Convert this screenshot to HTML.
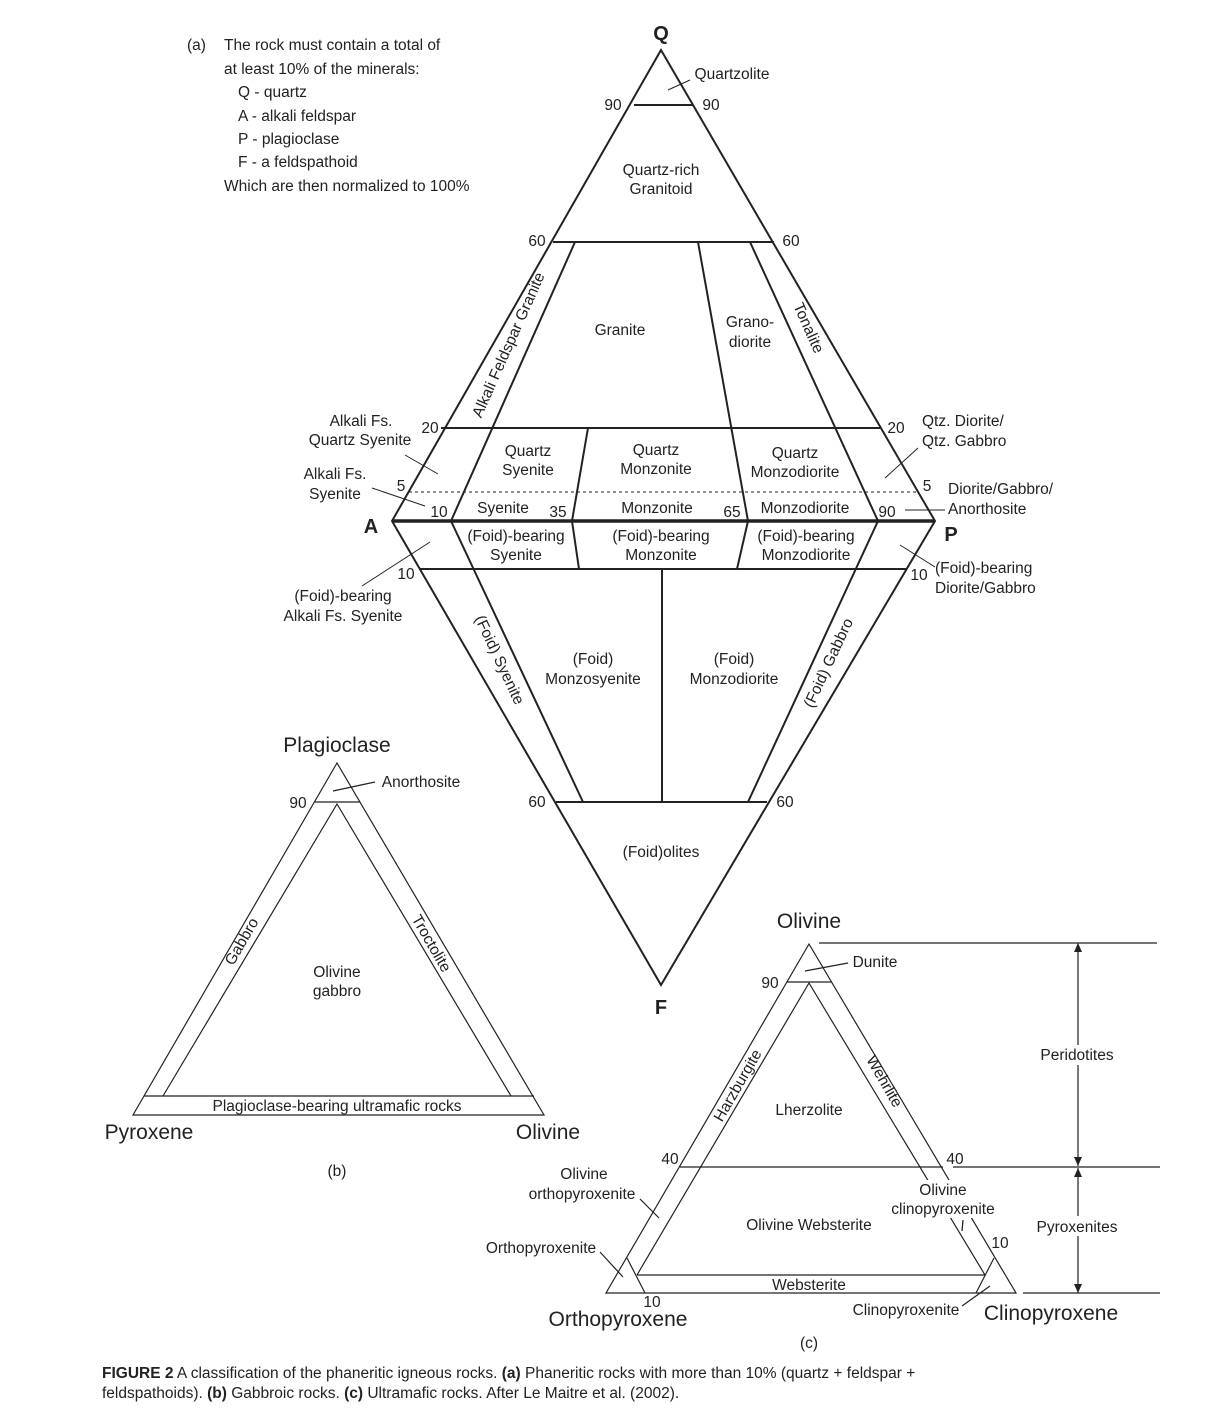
<!DOCTYPE html>
<html><head><meta charset="utf-8"><style>
body{margin:0;background:#fff}
svg text{font-family:"Liberation Sans",Arial,sans-serif;fill:#222}
</style></head><body>
<svg width="1230" height="1416" viewBox="0 0 1230 1416" xmlns="http://www.w3.org/2000/svg">
<g font-size="15.5">
<text x="187" y="50">(a)</text>
<text x="224" y="50">The rock must contain a  total of</text>
<text x="224" y="74">at least 10% of the minerals:</text>
<text x="238" y="97">Q - quartz</text>
<text x="238" y="121">A - alkali feldspar</text>
<text x="238" y="144">P - plagioclase</text>
<text x="238" y="167">F - a feldspathoid</text>
<text x="224" y="191">Which are then normalized to 100%</text>
</g>
<!-- QAPF -->
<g stroke="#222" stroke-width="2" fill="none">
<polygon points="661,50 392,521 661,985 935,521"/>
<line x1="634" y1="105" x2="693" y2="105"/>
<line x1="553" y1="242" x2="774" y2="242"/>
<line x1="441" y1="428" x2="880" y2="428"/>
<line x1="419" y1="569" x2="907" y2="569"/>
<line x1="556" y1="802" x2="767" y2="802"/>
<line x1="392" y1="521" x2="935" y2="521" stroke-width="3.5"/>
<line x1="575" y1="242" x2="451" y2="521"/>
<line x1="451" y1="521" x2="583" y2="802"/>
<line x1="588" y1="428" x2="572" y2="521"/>
<line x1="572" y1="521" x2="579" y2="569"/>
<line x1="698" y1="242" x2="748" y2="521"/>
<line x1="748" y1="521" x2="737" y2="569"/>
<line x1="750" y1="242" x2="878" y2="521"/>
<line x1="878" y1="521" x2="748" y2="802"/>
<line x1="662" y1="569" x2="662" y2="802"/>
</g>
<g stroke="#222" stroke-width="1" fill="none">
<line x1="409" y1="492" x2="919" y2="492" stroke-dasharray="3,3"/>
<line x1="668" y1="90" x2="690" y2="80"/>
<line x1="372" y1="488" x2="425" y2="506"/>
<line x1="405" y1="455" x2="438" y2="474"/>
<line x1="362" y1="586" x2="430" y2="542"/>
<line x1="885" y1="478" x2="918" y2="448"/>
<line x1="905" y1="510" x2="945" y2="510"/>
<line x1="900" y1="545" x2="935" y2="567"/>
</g>
<g font-size="15.5" text-anchor="middle">
<text x="661" y="40" font-size="20" font-weight="bold">Q</text>
<text x="371" y="533" font-size="20" font-weight="bold">A</text>
<text x="951" y="541" font-size="20" font-weight="bold">P</text>
<text x="661" y="1014" font-size="20" font-weight="bold">F</text>
<text x="732" y="79">Quartzolite</text>
<text x="613" y="110">90</text><text x="711" y="110">90</text>
<text x="661" y="175">Quartz-rich</text><text x="661" y="194">Granitoid</text>
<text x="537" y="246">60</text><text x="791" y="246">60</text>
<text x="620" y="335">Granite</text>
<text x="750" y="327">Grano-</text><text x="750" y="347">diorite</text>
<text x="513" y="347" transform="rotate(-66 513 347)">Alkali Feldspar Granite</text>
<text x="804" y="330" transform="rotate(66 804 330)">Tonalite</text>
<text x="361" y="426">Alkali Fs.</text><text x="360" y="445">Quartz Syenite</text>
<text x="430" y="433">20</text><text x="896" y="433">20</text>
<text x="922" y="426" text-anchor="start">Qtz. Diorite/</text>
<text x="922" y="446" text-anchor="start">Qtz. Gabbro</text>
<text x="335" y="479">Alkali Fs.</text><text x="335" y="499">Syenite</text>
<text x="401" y="491">5</text><text x="927" y="491">5</text>
<text x="948" y="494" text-anchor="start">Diorite/Gabbro/</text>
<text x="948" y="514" text-anchor="start">Anorthosite</text>
<text x="528" y="456">Quartz</text><text x="528" y="475">Syenite</text>
<text x="656" y="455">Quartz</text><text x="656" y="474">Monzonite</text>
<text x="795" y="458">Quartz</text><text x="795" y="477">Monzodiorite</text>
<text x="503" y="513">Syenite</text><text x="558" y="517">35</text>
<text x="657" y="513">Monzonite</text><text x="732" y="517">65</text>
<text x="805" y="513">Monzodiorite</text>
<text x="439" y="517">10</text><text x="887" y="517">90</text>
<text x="516" y="541">(Foid)-bearing</text><text x="516" y="560">Syenite</text>
<text x="661" y="541">(Foid)-bearing</text><text x="661" y="560">Monzonite</text>
<text x="806" y="541">(Foid)-bearing</text><text x="806" y="560">Monzodiorite</text>
<text x="406" y="579">10</text><text x="919" y="580">10</text>
<text x="343" y="601">(Foid)-bearing</text><text x="343" y="621">Alkali Fs. Syenite</text>
<text x="935" y="573" text-anchor="start">(Foid)-bearing</text>
<text x="935" y="593" text-anchor="start">Diorite/Gabbro</text>
<text x="495" y="662" transform="rotate(65 495 662)">(Foid) Syenite</text>
<text x="833" y="665" transform="rotate(-65 833 665)">(Foid) Gabbro</text>
<text x="593" y="664">(Foid)</text><text x="593" y="684">Monzosyenite</text>
<text x="734" y="664">(Foid)</text><text x="734" y="684">Monzodiorite</text>
<text x="537" y="807">60</text><text x="785" y="807">60</text>
<text x="661" y="857">(Foid)olites</text>
</g>
<!-- (b) -->
<g stroke="#222" stroke-width="1.2" fill="none">
<polygon points="337,763 133,1115 544,1115"/>
<polyline points="163,1096 337,804 511,1096"/>
<line x1="315" y1="802" x2="360" y2="802"/>
<line x1="144" y1="1096" x2="534" y2="1096"/>
<line x1="333" y1="791" x2="375" y2="782"/>
</g>
<g font-size="15.5" text-anchor="middle">
<text x="337" y="752" font-size="21">Plagioclase</text>
<text x="421" y="787">Anorthosite</text>
<text x="298" y="808">90</text>
<text x="246" y="944" transform="rotate(-60 246 944)">Gabbro</text>
<text x="427" y="946" transform="rotate(60 427 946)">Troctolite</text>
<text x="337" y="977">Olivine</text><text x="337" y="996">gabbro</text>
<text x="337" y="1111">Plagioclase-bearing ultramafic rocks</text>
<text x="149" y="1139" font-size="21">Pyroxene</text>
<text x="548" y="1139" font-size="21">Olivine</text>
<text x="337" y="1176">(b)</text>
</g>
<!-- (c) -->
<g stroke="#222" stroke-width="1.2" fill="none">
<polygon points="809,944 606,1293 1016,1293"/>
<polyline points="637,1275 809,983 985,1275"/>
<line x1="787" y1="982" x2="832" y2="982"/>
<line x1="680" y1="1167" x2="943" y2="1167"/>
<line x1="637" y1="1275" x2="985" y2="1275"/>
<line x1="627" y1="1258" x2="645" y2="1293"/>
<line x1="994" y1="1258" x2="976" y2="1293"/>
<line x1="805" y1="971" x2="848" y2="963"/>
<line x1="819" y1="943" x2="1157" y2="943"/>
<line x1="953" y1="1167" x2="1160" y2="1167"/>
<line x1="1023" y1="1293" x2="1160" y2="1293"/>
<line x1="1078" y1="943" x2="1078" y2="1166"/>
<line x1="1078" y1="1168" x2="1078" y2="1293"/>
<line x1="640" y1="1199" x2="659" y2="1218"/>
<line x1="600" y1="1252" x2="623" y2="1277"/>
<line x1="963" y1="1220" x2="962" y2="1231"/>
<line x1="962" y1="1306" x2="990" y2="1286"/>
</g>
<g fill="#222">
<polygon points="1078,943 1074,952 1082,952"/>
<polygon points="1078,1166 1074,1157 1082,1157"/>
<polygon points="1078,1168 1074,1177 1082,1177"/>
<polygon points="1078,1293 1074,1284 1082,1284"/>
</g>
<g fill="#fff">
<rect x="1038" y="1045" width="80" height="20"/>
<rect x="1034" y="1216" width="88" height="20"/>
<rect x="888" y="1180" width="110" height="38"/>
</g>
<g font-size="15.5" text-anchor="middle">
<text x="809" y="928" font-size="21">Olivine</text>
<text x="875" y="967">Dunite</text>
<text x="770" y="988">90</text>
<text x="742" y="1088" transform="rotate(-60 742 1088)">Harzburgite</text>
<text x="880" y="1084" transform="rotate(60 880 1084)">Wehrlite</text>
<text x="809" y="1115">Lherzolite</text>
<text x="1077" y="1060">Peridotites</text>
<text x="670" y="1164">40</text><text x="955" y="1164">40</text>
<text x="584" y="1179">Olivine</text><text x="582" y="1199">orthopyroxenite</text>
<text x="943" y="1195">Olivine</text><text x="943" y="1214">clinopyroxenite</text>
<text x="809" y="1230">Olivine Websterite</text>
<text x="1077" y="1232">Pyroxenites</text>
<text x="1000" y="1248">10</text>
<text x="541" y="1253">Orthopyroxenite</text>
<text x="809" y="1290">Websterite</text>
<text x="652" y="1307">10</text>
<text x="906" y="1315">Clinopyroxenite</text>
<text x="618" y="1326" font-size="21">Orthopyroxene</text>
<text x="1051" y="1320" font-size="21">Clinopyroxene</text>
<text x="809" y="1348">(c)</text>
</g>
<g stroke="#222" stroke-width="1" fill="none">
<line x1="963" y1="1220" x2="962" y2="1231"/>
</g>
<g font-size="15.5">
<text x="102" y="1378"><tspan font-weight="bold">FIGURE 2</tspan>   A classification of the phaneritic igneous rocks. <tspan font-weight="bold">(a)</tspan> Phaneritic rocks with more than 10% (quartz + feldspar +</text>
<text x="102" y="1398">feldspathoids). <tspan font-weight="bold">(b)</tspan> Gabbroic rocks. <tspan font-weight="bold">(c)</tspan> Ultramafic rocks. After Le Maitre et al. (2002).</text>
</g>
</svg>
</body></html>
